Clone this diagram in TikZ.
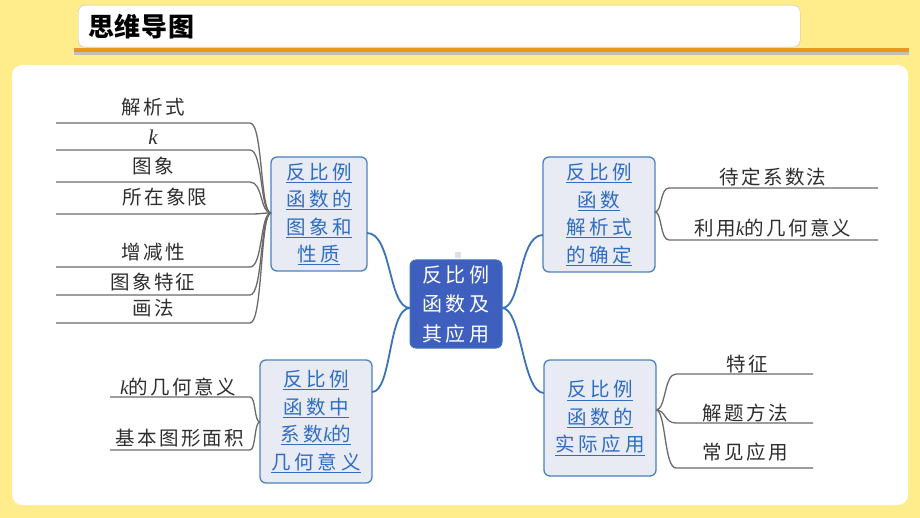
\documentclass[tikz,border=0pt]{standalone}
\usepackage{fontspec}
\setmainfont{Noto Sans CJK SC}
\newfontfamily\leaffont[LetterSpace=12]{Noto Sans CJK SC}
\newfontfamily\topicfont[LetterSpace=19]{Noto Sans CJK SC}
\newfontfamily\titlefont[LetterSpace=3]{Noto Sans CJK SC}
\newfontfamily\kfont{Liberation Serif}
\newcommand{\kk}{{\kfont\itshape k}}
\definecolor{bgy}{HTML}{FFEC8A}
\definecolor{orng}{HTML}{E8961C}
\definecolor{nodefill}{HTML}{E8EAF4}
\definecolor{nodeline}{HTML}{4A82C4}
\definecolor{centfill}{HTML}{3F5FBF}
\definecolor{blueline}{HTML}{3B72B8}
\definecolor{textblue}{HTML}{2E6DC0}
\definecolor{leafgray}{HTML}{6A6A6A}
\newcommand{\tl}[1]{\underline{\mbox{#1}}}
\tikzset{
  topic/.style={draw=nodeline, line width=1.3pt, fill=nodefill, rounded corners=6pt,
    align=center, text=textblue, inner sep=0pt,
    font=\topicfont\fontsize{19.5}{27.5}\selectfont},
  centre/.style={draw=blueline, line width=1pt, fill=centfill, rounded corners=6pt,
    align=center, text=white, inner sep=0pt,
    font=\topicfont\fontsize{20}{29.5}\selectfont},
  leaf/.style={text=black!82, inner sep=0pt, font=\leaffont\fontsize{19.5}{21}\selectfont},
  branch/.style={draw=leafgray, line width=1.3pt},
  mainline/.style={draw=blueline, line width=1.8pt}
}
\begin{document}
\begin{tikzpicture}[x=1pt,y=-1pt]
\useasboundingbox (0,0) rectangle (920,518);
\fill[bgy] (0,0) rectangle (920,518);
% title bar
\fill[black!25] (74,51.5) rectangle (909,55);
\fill[orng] (74,48.5) rectangle (909,52.5);
\node[draw=black!25, fill=white, rounded corners=7pt, minimum width=722pt, minimum height=42pt,
  inner sep=0pt, anchor=north west] (titlebox) at (78,5) {};
\node[anchor=west, inner sep=0pt, font=\titlefont\bfseries\fontsize{26}{28}\selectfont] (title) at (88,27) {思维导图};
% panel
\fill[white, rounded corners=10pt] (12,65) rectangle (908,505);
% small marker
\fill[black!12] (455,252) rectangle (461,258);
% central node
\node[centre, minimum width=92pt, minimum height=88pt] (c) at (456,304) {反比例\\函数及\\其应用};
% topic nodes
\node[topic, minimum width=96pt, minimum height=114pt] (tl) at (319,214)
  {\tl{反比例}\\\tl{函数的}\\\tl{图象和}\\\tl{性质}};
\node[topic, minimum width=112pt, minimum height=115pt] (tr) at (599,214.5)
  {\tl{反比例}\\\tl{函数}\\\tl{解析式}\\\tl{的确定}};
\node[topic, minimum width=112pt, minimum height=123pt] (bl) at (316,421.5)
  {\tl{反比例}\\\tl{函数中}\\\tl{系数\kk 的}\\\tl{几何意义}};
\node[topic, minimum width=112pt, minimum height=116pt] (br) at (600,418)
  {\tl{反比例}\\\tl{函数的}\\\tl{实际应用}};
% main connectors
\coordinate (cl) at (410,308);
\coordinate (cr) at (502,308);
\coordinate (tlp) at (367,233);
\coordinate (blp) at (372,392);
\coordinate (trp) at (543,235);
\coordinate (brp) at (544,393);
\draw[mainline] (cl) .. controls (388,308) and (392,233) .. (tlp);
\draw[mainline] (cl) .. controls (388,308) and (392,392) .. (blp);
\draw[mainline] (cr) .. controls (522,308) and (518,235) .. (trp);
\draw[mainline] (cr) .. controls (522,308) and (522,393) .. (brp);
% left-top leaves
\coordinate (tlw) at (271,213);
\foreach \y/\n in {123/a,150/b,182/c,214/d,267/e,295/f,323/g}{
  \coordinate (tlE\n) at (250,\y);
  \coordinate (tlF\n) at (56,\y);
  \draw[branch] (tlw) .. controls (260,213) and (263,\y) .. (tlE\n) -- (tlF\n);
}
\node[leaf] (l1) at (153,107) {解析式};
\node[leaf, font=\fontsize{21}{22}\selectfont] (l2) at (153,137) {\kk};
\node[leaf] (l3) at (153,166) {图象};
\node[leaf] (l4) at (165,197) {所在象限};
\node[leaf] (l5) at (153,252) {增减性};
\node[leaf] (l6) at (153,282) {图象特征};
\node[leaf] (l7) at (153,308) {画法};
% right-top leaves
\coordinate (tre) at (655,212);
\foreach \y/\n in {188/a,240/b}{
  \coordinate (trE\n) at (669,\y);
  \coordinate (trF\n) at (878,\y);
  \draw[branch] (tre) .. controls (662,212) and (660,\y) .. (trE\n) -- (trF\n);
}
\node[leaf] (r1) at (773,177) {待定系数法};
\node[leaf] (r2) at (773,228) {利用\kk 的几何意义};
% right-bottom leaves
\coordinate (bre) at (656,410);
\foreach \y/\n in {374/a,423/b,468/c}{
  \coordinate (brE\n) at (676,\y);
  \coordinate (brF\n) at (813,\y);
  \draw[branch] (bre) .. controls (666,410) and (664,\y) .. (brE\n) -- (brF\n);
}
\node[leaf] (s1) at (747,364) {特征};
\node[leaf] (s2) at (745,413) {解题方法};
\node[leaf] (s3) at (745,452) {常见应用};
% left-bottom leaves
\coordinate (blw) at (260,422);
\foreach \y/\n in {397/a,450/b}{
  \coordinate (blE\n) at (250,\y);
  \coordinate (blF\n) at (110,\y);
  \draw[branch] (blw) .. controls (254,422) and (256,\y) .. (blE\n) -- (blF\n);
}
\node[leaf] (q1) at (178,387) {\kk 的几何意义};
\node[leaf] (q2) at (180,438) {基本图形面积};
\end{tikzpicture}
\end{document}
